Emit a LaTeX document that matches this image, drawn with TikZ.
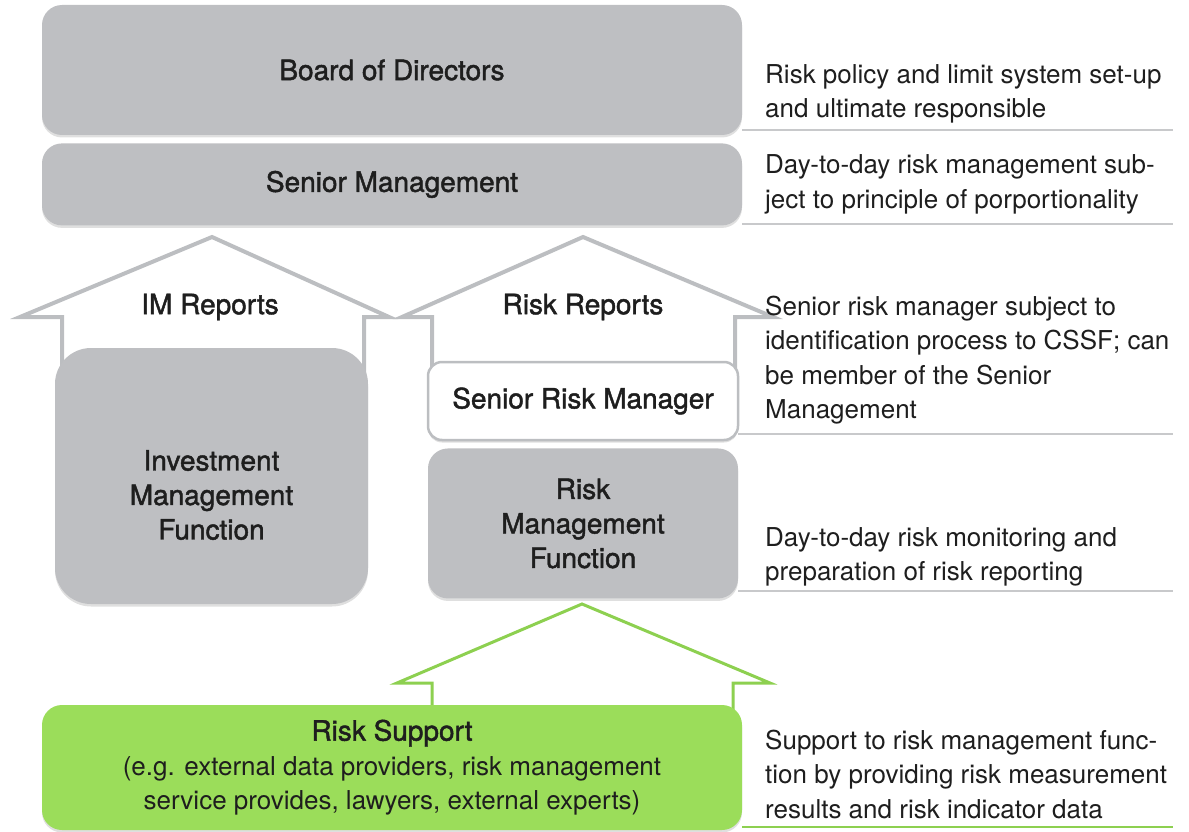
\documentclass[tikz,border=0pt]{standalone}
\usepackage{fontspec}
\setmainfont{TeX Gyre Heros}
\newfontfamily\medfont[FakeBold=1.6]{TeX Gyre Heros}
\usetikzlibrary{positioning, shadows}
\definecolor{boxgray}{RGB}{190,191,194}
\definecolor{arrowgray}{RGB}{188,190,193}
\definecolor{supgreen}{RGB}{155,221,90}
\definecolor{arrowgreen}{RGB}{141,208,80}
\definecolor{rulegray}{RGB}{200,201,203}
\definecolor{inkgray}{RGB}{30,30,30}
\tikzset{
  block/.style={
    rectangle,
    rounded corners=20pt,
    fill=boxgray,
    text=inkgray,
    align=center,
    inner sep=0pt,
    font=\medfont\fontsize{28}{34.5}\selectfont,
    drop shadow={shadow xshift=0pt, shadow yshift=-2.5pt, opacity=0.25}
  },
  whitebox/.style={
    block,
    fill=white,
    draw=arrowgray,
    line width=2.5pt,
    rounded corners=14pt
  },
  greenbox/.style={
    block,
    fill=supgreen,
    font=\fontsize{26}{34.5}\selectfont
  },
  label text/.style={
    text=inkgray,
    align=center,
    inner sep=0pt,
    font=\medfont\fontsize{28}{34.5}\selectfont
  },
  note/.style={
    anchor=west,
    align=left,
    inner sep=0pt,
    text=inkgray,
    font=\fontsize{26}{34.5}\selectfont
  },
  hollow arrow/.style={
    draw=arrowgray,
    line width=4pt,
    line join=miter
  },
  rule/.style={
    draw=rulegray,
    line width=1.5pt
  }
}

\begin{document}
\begin{tikzpicture}[x=1pt, y=-1pt]
    \useasboundingbox (0,0) rectangle (1189,832);

    % report arrows
    \draw[hollow arrow] (62,420) -- (62,317) -- (20,317) -- (212,237) -- (389,317) -- (364,317) -- (364,420);
    \draw[hollow arrow] (432,400) -- (432,317) -- (402,317) -- (583,237) -- (773,317) -- (735,317) -- (735,400);
    \draw[hollow arrow, draw=arrowgreen, line width=3pt] (432,730) -- (432,683) -- (397,683) -- (582,604) -- (770,683) -- (733,683) -- (733,730);

    \node[label text] (imrep) at (210,307) {IM Reports};
    \node[label text] (riskrep) at (583,307) {Risk Reports};

    % boxes
    \node[block, minimum width=700pt, minimum height=130pt] (board) at (392,70) {Board of Directors};
    \node[block, minimum width=700pt, minimum height=82pt, below=8pt of board] (senior) {Senior Management};
    \node[block, rounded corners=36pt, minimum width=313pt, minimum height=256pt] (imfn) at (211.5,476) {};
    \node[label text] (imlabel) at ([yshift=-19pt]imfn.center) {Investment\\Management\\Function};
    \node[whitebox, minimum width=310pt, minimum height=78pt] (srm) at (583,401) {Senior Risk Manager};
    \node[block, minimum width=310pt, minimum height=150pt, below=7pt of srm] (rmfn) {Risk\\Management\\Function};
    \node[greenbox, minimum width=700pt, minimum height=125pt] (support) at (392,767.5)
        {{\medfont\fontsize{28}{34.5}\selectfont Risk Support}\\(e.g. external data providers, risk management\\service provides, lawyers, external experts)};

    % notes on the right
    \node[note] (n1) at (765,94) {Risk policy and limit system set-up\\and ultimate responsible};
    \node[note] (n2) at (765,184.5) {Day-to-day risk management sub-\\ject to principle of porportionality};
    \node[note] (n3) at (765,360) {Senior risk manager subject to\\identification process to CSSF; can\\be member of the Senior\\Management};
    \node[note] (n4) at (765,557) {Day-to-day risk monitoring and\\preparation of risk reporting};
    \node[note] (n5) at (765,774) {Support to risk management func-\\tion by providing risk measurement\\results and risk indicator data};

    \draw[rule] (742,130) -- (1173,130);
    \draw[rule] (742,224) -- (1173,224);
    \draw[rule] (738,434) -- (1173,434);
    \draw[rule] (738,591) -- (1173,591);
    \draw[rule, draw=arrowgreen] (742,827) -- (1173,827);
\end{tikzpicture}
\end{document}
